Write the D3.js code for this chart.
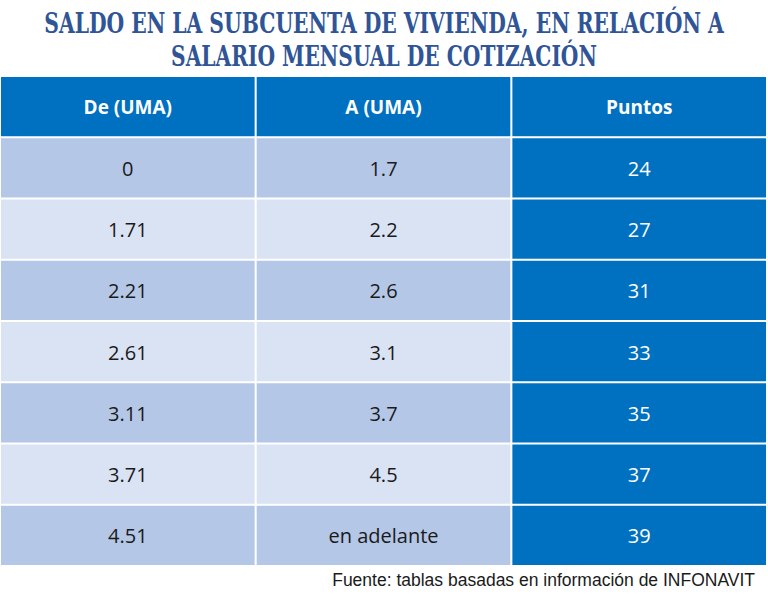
<!DOCTYPE html>
<html><head><meta charset="utf-8">
<script src="https://cdn.jsdelivr.net/npm/d3@7"></script>
<style>body{margin:0;background:#fff}svg{display:block}</style>
</head><body>
<script>
const titleLines = ["SALDO EN LA SUBCUENTA DE VIVIENDA, EN RELACIÓN A", "SALARIO MENSUAL DE COTIZACIÓN"];
const headers = ["De (UMA)", "A (UMA)", "Puntos"];
const deValues = ["0", "1.71", "2.21", "2.61", "3.11", "3.71", "4.51"];
const aValues = ["1.7", "2.2", "2.6", "3.1", "3.7", "4.5", "en adelante"];
const puntos = [24, 27, 31, 33, 35, 37, 39];
const source = "Fuente: tablas basadas en información de INFONAVIT";

const W = 768, H = 603;
const svg = d3.select("body").append("svg").attr("width", W).attr("height", H);

const targetW = [680, 426];
const baseSize = 28;
svg.selectAll("text.title").data(titleLines).join("text")
  .attr("class", "title")
  .attr("x", 0).attr("y", 0)
  .attr("text-anchor", "middle")
  .attr("font-family", "'DejaVu Serif Condensed', 'DejaVu Serif', serif")
  .attr("font-weight", "bold").attr("font-size", baseSize)
  .attr("fill", "#2F5597")
  .text(d => d)
  .each(function(d, i) {
    const el = d3.select(this);
    const natural = this.getComputedTextLength();
    const s = baseSize * targetW[i] / natural;
    el.attr("font-size", s)
      .attr("transform", `translate(${W / 2},${33 + i * 33}) scale(1,${baseSize / s})`);
  });

const rows = [headers].concat(deValues.map((d, i) => [d, aValues[i], String(puntos[i])]));
const x = d3.scaleBand().domain(d3.range(3)).range([1, 766]).paddingInner(0.008);
const y = d3.scaleBand().domain(d3.range(rows.length)).range([77, 565]).paddingInner(0.033);

const cells = [];
rows.forEach((r, ri) => r.forEach((v, ci) => cells.push({ri, ci, v})));

function fillOf(c) {
  if (c.ri === 0 || c.ci === 2) return "#0070C0";
  return (c.ri % 2 === 1) ? "#B4C7E7" : "#DAE3F3";
}

const g = svg.append("g");
g.selectAll("rect").data(cells).join("rect")
  .attr("x", d => x(d.ci)).attr("y", d => y(d.ri))
  .attr("width", x.bandwidth()).attr("height", y.bandwidth())
  .attr("fill", fillOf);

g.selectAll("text").data(cells).join("text")
  .attr("x", d => x(d.ci) + x.bandwidth() / 2)
  .attr("y", d => y(d.ri) + y.bandwidth() / 2 + 1)
  .attr("dy", "0.35em")
  .attr("text-anchor", "middle")
  .attr("font-family", "'Open Sans', Lato, sans-serif")
  .attr("font-size", d => d.ri === 0 ? 19 : 20)
  .attr("font-weight", d => d.ri === 0 ? "bold" : "normal")
  .attr("fill", d => (d.ri === 0 || d.ci === 2) ? "#ffffff" : "#1a1a1a")
  .text(d => d.v);

svg.append("text")
  .attr("x", 755).attr("y", 586)
  .attr("text-anchor", "end")
  .attr("font-family", "'Liberation Sans', Arial, sans-serif")
  .attr("font-size", 17.5).attr("fill", "#1a1a1a")
  .text(source);
</script>
</body></html>
